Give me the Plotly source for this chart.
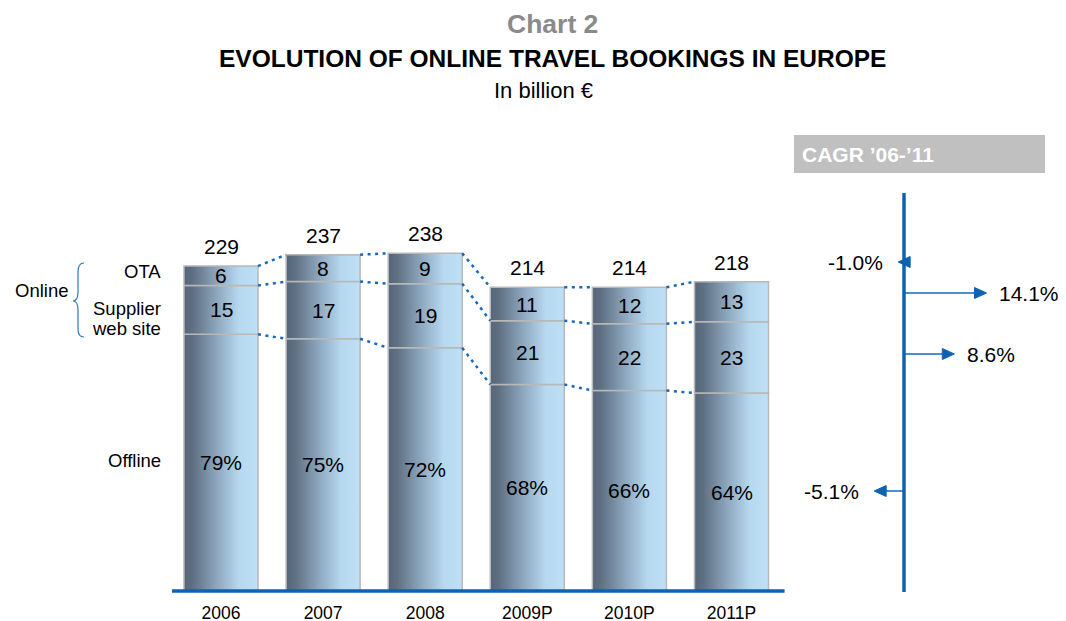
import plotly.graph_objects as go

# ---------------- data ----------------
years = ["2006", "2007", "2008", "2009P", "2010P", "2011P"]
totals = [229, 237, 238, 214, 214, 218]          # billion EUR
offline_pct = [79, 75, 72, 68, 66, 64]
supplier_pct = [15, 17, 19, 21, 22, 23]
ota_pct = [6, 8, 9, 11, 12, 13]

cagr_names = ["Total", "OTA", "Supplier web site", "Offline"]
cagr_values = [-1.0, 14.1, 8.6, -5.1]

# ---------------- layout constants ----------------
W, H = 1066, 621
FONT = "Liberation Sans, Arial, sans-serif"
BLUE = "#0f62b0"
SHAFT = "#4a8fd0"
DOT = "#1769b8"
EDGE = "#b8b8b8"
GRAD = [[0.0, "#56657a"], [0.12, "#5f7083"], [0.45, "#8ea8bf"],
        [0.75, "#b7d9f0"], [1.0, "#bde0f7"]]

base_px = 591            # pixel row of the zero line
px_per_unit = 1.419      # vertical scale
x0_px, step_px = 221, 102.1
hw = 0.3625              # half bar width (category units)
cagr_x0_px, cagr_scale = 904, 5.85
cagr_ypix = [262, 293, 354, 491]   # layout rows of the CAGR arrows


def px(x, y):
    return x / W, 1 - y / H


fig = go.Figure()

# ---------------- stacked bars (gradient segments) ----------------
b1 = [t * o / 100 for t, o in zip(totals, offline_pct)]
b2 = [b + t * s / 100 for b, t, s in zip(b1, totals, supplier_pct)]
b3 = totals[:]

for i in range(len(years)):
    for lo, hi in [(0, b1[i]), (b1[i], b2[i]), (b2[i], b3[i])]:
        fig.add_trace(go.Scatter(
            x=[i - hw, i + hw, i + hw, i - hw, i - hw],
            y=[lo, lo, hi, hi, lo],
            mode="lines", fill="toself",
            fillgradient=dict(type="horizontal", colorscale=GRAD),
            line=dict(color=EDGE, width=1.5),
            hoverinfo="skip", showlegend=False))

# ---------------- dotted connectors ----------------
for bounds in (b1, b2, b3):
    for i in range(len(years) - 1):
        fig.add_trace(go.Scatter(
            x=[i + hw, i + 1 - hw], y=[bounds[i], bounds[i + 1]],
            mode="lines", line=dict(color=DOT, width=2.5, dash="3px,4.5px"),
            hoverinfo="skip", showlegend=False))

# ---------------- baseline ----------------
fig.add_trace(go.Scatter(
    x=[-0.48, len(years) - 0.48], y=[0, 0], mode="lines",
    line=dict(color=BLUE, width=3.5), hoverinfo="skip", showlegend=False))

# ---------------- bar labels ----------------
ann = []
for i in range(len(years)):
    ann.append(dict(x=i, y=totals[i], xref="x", yref="y", text=str(totals[i]),
                    showarrow=False, yanchor="bottom", yshift=6,
                    font=dict(size=21, color="#000", family=FONT)))
    ann.append(dict(x=i, y=(b2[i] + b3[i]) / 2, xref="x", yref="y", text=str(ota_pct[i]),
                    showarrow=False, font=dict(size=21, color="#000", family=FONT)))
    ann.append(dict(x=i, y=(b1[i] + b2[i]) / 2, xref="x", yref="y", text=str(supplier_pct[i]),
                    showarrow=False, font=dict(size=21, color="#000", family=FONT)))
    ann.append(dict(x=i, y=b1[i] / 2, xref="x", yref="y", text=f"{offline_pct[i]}%",
                    showarrow=False, font=dict(size=21, color="#000", family=FONT)))

# ---------------- CAGR arrows ----------------
head_len = 12 / cagr_scale
head_half = 5.5
for v, yp, name in zip(cagr_values, cagr_ypix, cagr_names):
    s = 1 if v > 0 else -1
    base = v - s * head_len
    fig.add_trace(go.Scatter(
        x=[0, base], y=[yp, yp], xaxis="x2", yaxis="y2", mode="lines",
        line=dict(color=SHAFT, width=2), hoverinfo="skip", showlegend=False))
    fig.add_trace(go.Scatter(
        x=[v, base, base, v], y=[yp, yp - head_half, yp + head_half, yp],
        xaxis="x2", yaxis="y2", mode="lines", fill="toself",
        fillcolor=BLUE, line=dict(color=BLUE, width=1),
        hoverinfo="skip", showlegend=False, name=name))
    ann.append(dict(x=v, y=yp, xref="x2", yref="y2", text=f"{v:.1f}%",
                    showarrow=False, xanchor="left" if v > 0 else "right",
                    xshift=11 if v > 0 else -13,
                    font=dict(size=21, color="#000", family=FONT)))

# ---------------- titles & side labels ----------------
def text_at(x, y, t, size, color="#000", bold=False, xanchor="center"):
    xp, yp = px(x, y)
    ann.append(dict(x=xp, y=yp, xref="paper", yref="paper",
                    text=f"<b>{t}</b>" if bold else t, showarrow=False,
                    xanchor=xanchor, yanchor="middle",
                    font=dict(size=size, color=color, family=FONT)))

text_at(552, 24, "Chart 2", 26.5, color="#8a8a8a", bold=True)
text_at(552, 59, "EVOLUTION OF ONLINE TRAVEL BOOKINGS IN EUROPE", 24.5, bold=True)
text_at(543, 91, "In billion €", 22)
text_at(163, 272, "OTA", 18.5, xanchor="right")
text_at(163, 308, "Supplier", 18.5, xanchor="right")
text_at(163, 328, "web site", 18.5, xanchor="right")
text_at(163, 460, "Offline", 18.5, xanchor="right")
text_at(13, 290, "Online", 18.5, xanchor="left")
text_at(800, 154, "CAGR ’06-’11", 21, color="#ffffff", bold=True, xanchor="left")

# ---------------- shapes ----------------
def P(x, y):
    a, b = px(x, y)
    return f"{a:.5f},{b:.5f}"

brace = (f"M {P(84,263)} Q {P(78,263)} {P(78,272)} L {P(78,292)} "
         f"Q {P(78,301)} {P(73,301)} Q {P(78,301)} {P(78,310)} "
         f"L {P(78,329)} Q {P(78,337)} {P(84,337)}")

bx0, by0 = px(794, 135)
bx1, by1 = px(1045, 173)
shapes = [
    dict(type="path", path=brace, xref="paper", yref="paper",
         line=dict(color="#2f77c0", width=1.2)),
    dict(type="rect", x0=bx0, x1=bx1, y0=by1, y1=by0, xref="paper", yref="paper",
         fillcolor="#c0c0c0", line=dict(width=0), layer="below"),
    dict(type="line", x0=0, x1=0, y0=193, y1=592, xref="x2", yref="y2",
         line=dict(color=BLUE, width=3.5)),
]

fig.update_layout(
    width=W, height=H,
    margin=dict(l=0, r=0, t=0, b=0),
    paper_bgcolor="white", plot_bgcolor="white",
    showlegend=False,
    font=dict(family=FONT, color="#000"),
    xaxis=dict(domain=[0, 1],
               range=[-x0_px / step_px, (W - x0_px) / step_px],
               tickvals=list(range(len(years))), ticktext=years,
               tickfont=dict(size=17.5, color="#000", family=FONT),
               showgrid=False, zeroline=False, showline=False, ticks="",
               anchor="free", position=(H - base_px) / H,
               ticklabelstandoff=9, automargin=False, fixedrange=True),
    yaxis=dict(domain=[0, 1],
               range=[-(H - base_px) / px_per_unit, base_px / px_per_unit],
               visible=False, automargin=False, fixedrange=True),
    xaxis2=dict(overlaying="x", anchor="y",
                range=[-cagr_x0_px / cagr_scale, (W - cagr_x0_px) / cagr_scale],
                visible=False, fixedrange=True),
    yaxis2=dict(overlaying="y", anchor="x",
                range=[H, 0], visible=False, fixedrange=True),
    annotations=ann,
    shapes=shapes,
)

fig.write_html(
    "out.html",
    config={"displayModeBar": False},
    post_script="document.body.style.margin='0';document.body.style.overflow='hidden';",
)
